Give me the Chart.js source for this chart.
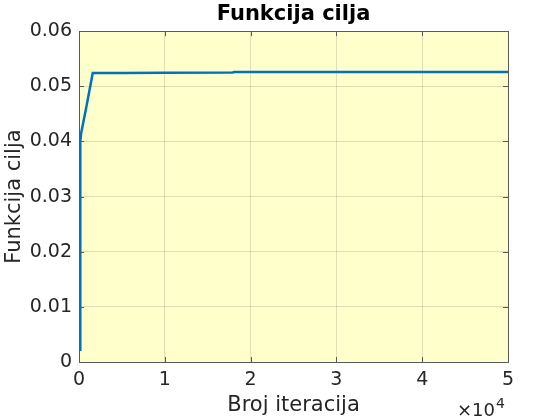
<!DOCTYPE html>
<html>
<head>
<meta charset="utf-8">
<script src="https://cdn.jsdelivr.net/npm/chart.js@4/dist/chart.umd.min.js"></script>
<style>
  html, body { margin: 0; padding: 0; background: #fff; }
  #wrap { width: 560px; height: 420px; }
</style>
</head>
<body>
<div id="wrap"><canvas id="myChart" width="560" height="420"></canvas></div>
<script>
'use strict';

// iteration number and objective value
const iterations = [150, 150, 250, 900, 1600, 5000, 10000, 17900, 18100, 30000, 50000];
const objective = [0.002, 0.0400, 0.0415, 0.0466, 0.0524, 0.0524, 0.05245, 0.0525, 0.0526, 0.0526, 0.0526];

const xTicks = [0, 10000, 20000, 30000, 40000, 50000];
const yTicks = [0, 0.01, 0.02, 0.03, 0.04, 0.05, 0.06];

const textColor = '#262626',
  font = 'DejaVu Sans';

const points = iterations.map((it, i) => ({ x: it, y: objective[i] }));

// yellow plot area, box, inner ticks and the x10^4 exponent
const matlabAxes = {
  id: 'matlabAxes',
  beforeDraw: chart => {
    const { ctx, chartArea: a } = chart;
    ctx.save();
    ctx.fillStyle = '#FFFFCC';
    ctx.fillRect(a.left, a.top, a.right - a.left, a.bottom - a.top);
    ctx.restore();
  },
  afterDatasetsDraw: chart => {
    const { ctx, chartArea: a, scales } = chart;
    ctx.save();
    ctx.strokeStyle = '#5a5a5a';
    ctx.lineWidth = 1;
    ctx.beginPath();
    xTicks.forEach(v => {
      const px = Math.round(scales.x.getPixelForValue(v)) + 0.5;
      ctx.moveTo(px, a.bottom); ctx.lineTo(px, a.bottom - 5);
      ctx.moveTo(px, a.top); ctx.lineTo(px, a.top + 5);
    });
    yTicks.forEach(v => {
      const py = Math.round(scales.y.getPixelForValue(v)) + 0.5;
      ctx.moveTo(a.left, py); ctx.lineTo(a.left + 5, py);
      ctx.moveTo(a.right, py); ctx.lineTo(a.right - 5, py);
    });
    ctx.stroke();
    ctx.strokeRect(Math.round(a.left) + 0.5, Math.round(a.top) + 0.5,
      Math.round(a.right - a.left), Math.round(a.bottom - a.top));

    ctx.fillStyle = textColor;
    ctx.textBaseline = 'alphabetic';
    ctx.textAlign = 'left';
    ctx.font = '18px "' + font + '"';
    ctx.fillText('\u00d710', 457, 416);
    const w = ctx.measureText('\u00d710').width;
    ctx.font = '14px "' + font + '"';
    ctx.fillText('4', 457 + w + 1, 408);
    ctx.restore();
  }
};

const ctx = document.getElementById('myChart').getContext('2d');

const chart = new Chart(ctx, {
  type: 'scatter',
  data: {
    datasets: [{
      data: points,
      showLine: true,
      clip: false,
      borderColor: '#0072BD',
      borderWidth: 2.5,
      pointRadius: 0,
      tension: 0,
      fill: false
    }]
  },
  options: {
    responsive: false,
    animation: false,
    layout: { padding: { left: 0, right: 52, top: 0, bottom: 0 } },
    plugins: {
      legend: { display: false },
      tooltip: { enabled: false },
      title: {
        display: true,
        text: 'Funkcija cilja',
        fullSize: false,
        color: '#000',
        font: { family: font, size: 21, weight: 'bold', lineHeight: 1.2 },
        padding: { top: 2, bottom: 4 }
      }
    },
    scales: {
      x: {
        type: 'linear',
        min: 0,
        max: 50000,
        afterFit: s => { s.height = 58; },
        afterBuildTicks: s => { s.ticks = xTicks.map(v => ({ value: v })); },
        grid: { color: 'rgba(38,38,38,0.15)', drawTicks: false },
        border: { display: false },
        ticks: {
          color: textColor,
          padding: 7,
          maxRotation: 0,
          font: { family: font, size: 19 },
          callback: v => String(v / 10000)
        },
        title: {
          display: true,
          text: 'Broj iteracija',
          color: textColor,
          font: { family: font, size: 21, lineHeight: 1.2 },
          padding: { top: 0, bottom: 2 }
        }
      },
      y: {
        type: 'linear',
        min: 0,
        max: 0.06,
        afterFit: s => { s.width = 79; },
        afterBuildTicks: s => { s.ticks = yTicks.map(v => ({ value: v })); },
        grid: { color: 'rgba(38,38,38,0.15)', drawTicks: false },
        border: { display: false },
        ticks: {
          color: textColor,
          padding: 7,
          font: { family: font, size: 19 },
          callback: v => v === 0 ? '0' : v.toFixed(2)
        },
        title: {
          display: true,
          text: 'Funkcija cilja',
          color: textColor,
          font: { family: font, size: 21, lineHeight: 1.2 },
          padding: { top: 2, bottom: 0 }
        }
      }
    }
  },
  plugins: [matlabAxes]
});
</script>
</body>
</html>
